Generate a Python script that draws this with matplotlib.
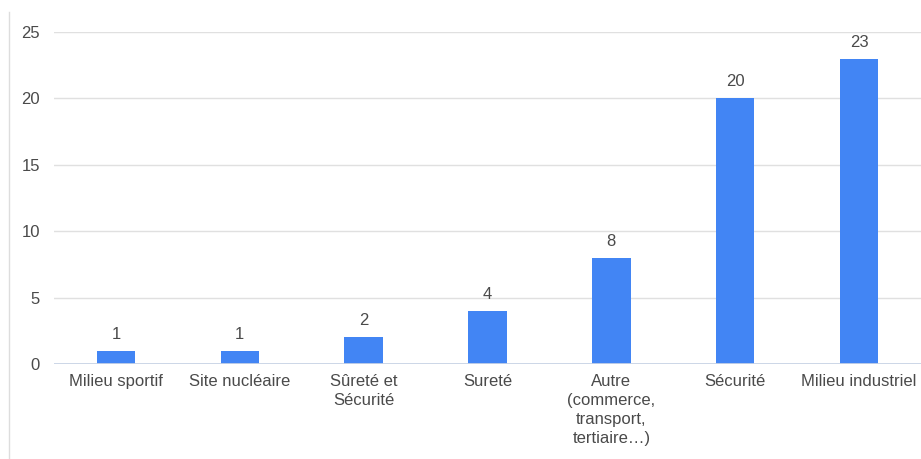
import numpy as np
import matplotlib.pyplot as plt
from matplotlib.lines import Line2D

plt.rcParams['font.family'] = ['Liberation Sans', 'DejaVu Sans']

categories = ['Milieu sportif', 'Site nucléaire', 'Sûreté et\nSécurité', 'Sureté',
              'Autre\n(commerce,\ntransport,\ntertiaire…)', 'Sécurité', 'Milieu industriel']
counts = [1, 1, 2, 4, 8, 20, 23]
yticks = [0, 5, 10, 15, 20, 25]

txt = '#4a4a4a'
fs = 12
fig = plt.figure(figsize=(9.21, 4.59), dpi=100)
ax = fig.add_axes([54 / 921, 1 - 364 / 459, 1 - 54 / 921, (364 - 32) / 459])

x = np.arange(len(categories))
bars = ax.bar(x, counts, width=0.31, color='#4285f4', zorder=2)
for b, v in zip(bars, counts):
    ax.annotate(str(v), (b.get_x() + b.get_width() / 2, v), xytext=(0, 6.5),
                textcoords='offset points', ha='center', va='bottom',
                fontsize=fs, color=txt)

ax.set_xlim(-0.5, len(categories) - 0.5)
ax.set_ylim(0, 25)
ax.set_yticks(yticks)
ax.set_xticks(x)
ax.set_xticklabels(categories, fontsize=fs, color=txt, linespacing=1.35)
ax.tick_params(axis='y', labelsize=fs, labelcolor=txt, length=0, pad=10)
ax.tick_params(axis='x', length=0, pad=7)
ax.grid(axis='y', color='#e0e0e0', linewidth=1, zorder=0)
ax.axhline(0, color='#c8d3e6', linewidth=2, zorder=3)
for s in ax.spines.values():
    s.set_visible(False)

# thin frame edge on the left
fig.add_artist(Line2D([8.5 / 921, 8.5 / 921], [0, 1 - 12 / 459],
                      transform=fig.transFigure, color='#dddddd', linewidth=1))

fig.savefig('out.png', dpi=100)
